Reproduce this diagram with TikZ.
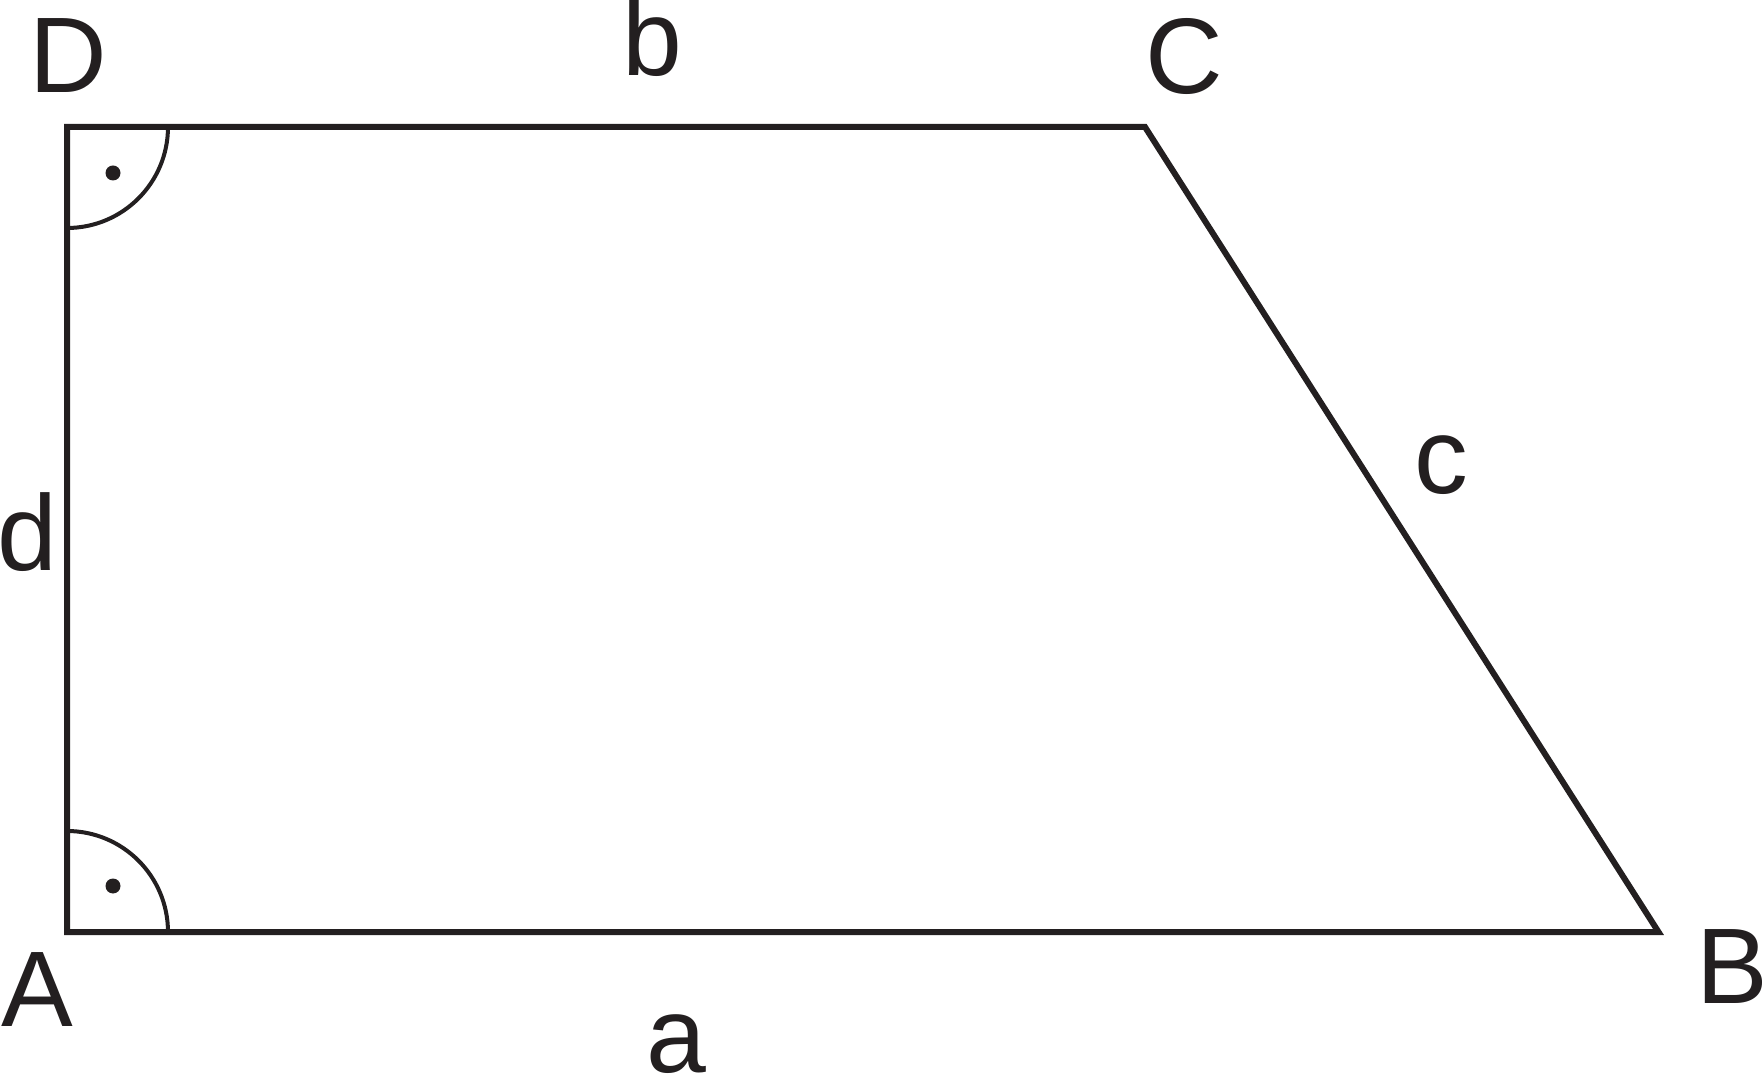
\documentclass[tikz,border=0pt]{standalone}
\usepackage{fontspec}
\setmainfont{Liberation Sans}
\definecolor{ink}{HTML}{231F20}
\begin{document}
\begin{tikzpicture}[x=0.5pt,y=-0.5pt,
  side/.style={draw=ink,line width=3pt,line join=miter},
  rightmark/.style={draw=ink,line width=2pt},
  dotmark/.style={fill=ink},
  lbl/.style={text=ink,inner sep=0pt,anchor=base,font=\fontsize{53.75pt}{60pt}\selectfont}]
\useasboundingbox (0,0) rectangle (1762,1074);
\coordinate (A) at (67,932);
\coordinate (B) at (1658.5,932);
\coordinate (C) at (1145,127);
\coordinate (D) at (67,127);
\draw[side] (A) -- (B) -- (C) -- (D) -- cycle;
\draw[rightmark] (168,127) arc[start angle=0,end angle=90,radius=101];
\draw[rightmark] (67,831) arc[start angle=-90,end angle=0,radius=101];
\fill[dotmark] (113,173) circle[radius=7.5];
\fill[dotmark] (113,886) circle[radius=7.5];
\node[lbl] (lD) at (68.5,93) {D};
\node[lbl] (lC) at (1184,94) {C};
\node[lbl] (lb) at (652.5,76) {b};
\node[lbl] (lA) at (37.5,1026) {A};
\node[lbl] (lB) at (1732,1003) {B};
\node[lbl] (lc) at (1441,494) {c};
\node[lbl] (ld) at (27,571) {d};
\node[lbl] (la) at (676,1072) {a};
\end{tikzpicture}
\end{document}
